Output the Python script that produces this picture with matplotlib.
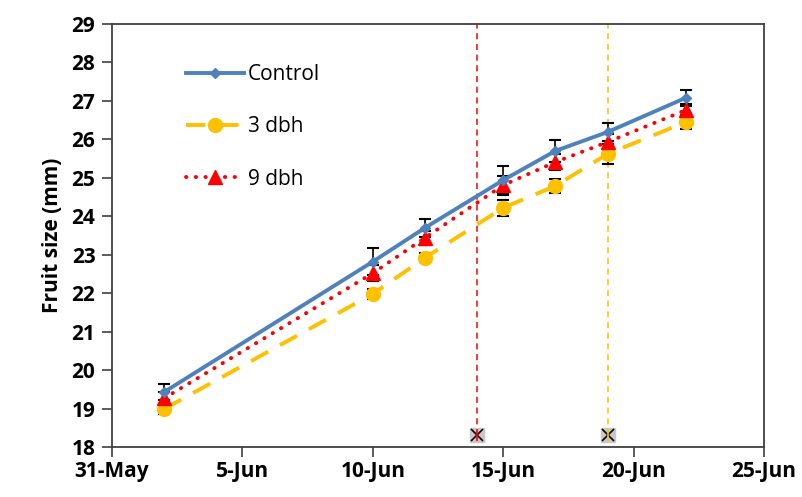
import matplotlib
matplotlib.use("Agg")
import matplotlib.pyplot as plt
import matplotlib.dates as mdates
import pandas as pd

plt.rcParams['font.family'] = ['Open Sans', 'DejaVu Sans']

# Sampling dates (2018 season)
dates = ["2018-06-02", "2018-06-10", "2018-06-12", "2018-06-15",
         "2018-06-17", "2018-06-19", "2018-06-22"]

control = [19.43, 22.82, 23.70, 24.94, 25.70, 26.19, 27.08]
control_err = [0.21, 0.36, 0.23, 0.36, 0.29, 0.23, 0.21]

dbh3 = [18.99, 21.98, 22.92, 24.22, 24.79, 25.62, 26.45]
dbh3_err = [0.12, 0.12, 0.12, 0.21, 0.19, 0.26, 0.19]

dbh9 = [19.27, 22.52, 23.44, 24.81, 25.41, 25.93, 26.76]
dbh9_err = [0.15, 0.20, 0.18, 0.25, 0.20, 0.20, 0.15]

# Treatment application dates and their marker level
events = ["2018-06-14", "2018-06-19"]
event_colors = ["#FF0000", "#FFC000"]
event_level = 18.31

x = pd.to_datetime(dates)
xe = pd.to_datetime(events)

fig = plt.figure(figsize=(8.02, 4.97), dpi=100)
ax = fig.add_axes([0.1397, 0.1006, 0.8129, 0.8511])

blue = "#4F81BD"
gold = "#FFC000"
red = "#FF0000"

for vals, errs in [(control, control_err), (dbh3, dbh3_err), (dbh9, dbh9_err)]:
    ax.errorbar(x, vals, yerr=errs, fmt='none', ecolor='black',
                elinewidth=1.2, capsize=4, capthick=1.5, zorder=2)

ax.plot(x, dbh3, color=gold, lw=2.8, ls=(0, (5, 3.5)), marker='o',
        ms=10, mec=gold, mfc=gold, label="3 dbh", zorder=3)
ax.plot(x, dbh9, color=red, lw=2.8, ls=(0, (0.1, 2.4)), dash_capstyle='round',
        marker='^', ms=10, mec=red, mfc=red, label="9 dbh", zorder=4)
ax.plot(x, control, color=blue, lw=2.8, marker='D', ms=5.5, mec=blue,
        mfc=blue, label="Control", zorder=5)

for d, c in zip(xe, event_colors):
    ax.vlines(d, event_level, 29, colors=c, linestyles=(0, (4, 3)), lw=1.1, zorder=1)
    ax.plot([d], [event_level], marker='s', ms=10, mfc='#C8C8C8', mec='#C8C8C8',
            zorder=6, clip_on=False)
    ax.plot([d], [event_level], marker='x', ms=8, mec='black', mew=1.2,
            zorder=7, clip_on=False)
    ax.plot([d], [event_level], marker='|', ms=8, mec=c, mew=1.2,
            zorder=7, clip_on=False)

ax.set_xlim(pd.Timestamp("2018-05-31"), pd.Timestamp("2018-06-25"))
ax.set_ylim(18, 29)
ax.set_xticks(pd.date_range("2018-05-31", "2018-06-25", freq="5D"))
ax.xaxis.set_major_formatter(mdates.DateFormatter('%-d-%b'))
ax.set_yticks(range(18, 30))

for s in ax.spines.values():
    s.set_color('#404040')
    s.set_linewidth(1.3)

ax.tick_params(axis='both', direction='out', length=7, width=1.2,
               color='#404040', labelsize=15, pad=5)
ax.tick_params(axis='x', pad=3)
for lbl in ax.get_xticklabels() + ax.get_yticklabels():
    lbl.set_fontweight('bold')

ax.set_ylabel("Fruit size (mm)", fontsize=15, fontweight='bold', labelpad=6)

handles, labels = ax.get_legend_handles_labels()
order = [2, 0, 1]
leg = ax.legend([handles[i] for i in order], [labels[i] for i in order],
                loc='upper left', bbox_to_anchor=(0.1, 0.925), frameon=False,
                fontsize=15, handlelength=2.8, labelspacing=1.5,
                handletextpad=0.2, borderaxespad=0)

fig.savefig("out.png", dpi=100)
